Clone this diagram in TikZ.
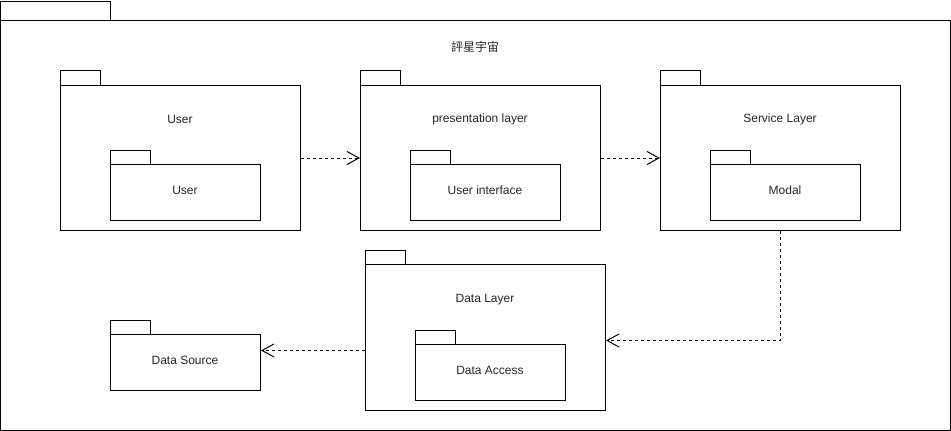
\documentclass[tikz,border=0pt]{standalone}
\usepackage{fontspec}
\setmainfont{Liberation Sans}
\newfontfamily\cjkfont{Noto Sans CJK TC}
\usetikzlibrary{arrows.meta,calc}
\begin{document}
\begin{tikzpicture}[x=1pt,y=-1pt,
  line width=1pt,
  every node/.style={font=\fontsize{12}{14}\selectfont, text=black!85},
  pkgbody/.style={draw, fill=white, anchor=north west, inner sep=0pt, minimum width=#1},
  pkgtab/.style={draw, fill=white},
  lbl/.style={yshift=-1.5pt},
  dep/.style={dash pattern=on 3pt off 3pt, -{Straight Barb[length=12pt,width=13pt,line width=1pt]}}
]
\useasboundingbox (0,0) rectangle (951,431);

% outer package
\draw[pkgtab] (0,1) rectangle (110,20);
\node[pkgbody=950pt, minimum height=410pt] (frame) at (0,20) {};
\node[lbl] (title) at (475,45) {\cjkfont 評星宇宙};

% User
\draw[pkgtab] (60,70) rectangle (100,85);
\node[pkgbody=240pt, minimum height=145pt] (user) at (60,85) {};
\node[lbl] (userlbl) at (180,118) {User};
\draw[pkgtab] (110,150) rectangle (150,164);
\node[pkgbody=150pt, minimum height=56pt] (useri) at (110,164) {};
\node[lbl] (userilbl) at (185,189) {User};

% presentation layer
\draw[pkgtab] (360,70) rectangle (400,85);
\node[pkgbody=240pt, minimum height=145pt] (pres) at (360,85) {};
\node[lbl] (preslbl) at (480,118) {presentation layer};
\draw[pkgtab] (410,150) rectangle (450,164);
\node[pkgbody=150pt, minimum height=56pt] (presi) at (410,164) {};
\node[lbl] (presilbl) at (485,189) {User interface};

% Service Layer
\draw[pkgtab] (660,70) rectangle (700,85);
\node[pkgbody=240pt, minimum height=145pt] (svc) at (660,85) {};
\node[lbl] (svclbl) at (780,118) {Service Layer};
\draw[pkgtab] (710,150) rectangle (750,164);
\node[pkgbody=150pt, minimum height=56pt] (svci) at (710,164) {};
\node[lbl] (svcilbl) at (785,189) {Modal};

% Data Layer
\draw[pkgtab] (365,250) rectangle (405,264);
\node[pkgbody=240pt, minimum height=146pt] (dl) at (365,264) {};
\node[lbl] (dllbl) at (485,298) {Data Layer};
\draw[pkgtab] (415,330) rectangle (455,344);
\node[pkgbody=150pt, minimum height=56pt] (dli) at (415,344) {};
\node[lbl] (dlilbl) at (490,369) {Data Access};

% Data Source
\draw[pkgtab] (110,320) rectangle (150,334);
\node[pkgbody=150pt, minimum height=56pt] (ds) at (110,334) {};
\node[lbl] (dslbl) at (185,359) {Data Source};

% dependencies
\draw[dep] (user.east) -- (pres.west);
\draw[dep] (pres.east) -- (svc.west);
\draw[dep] (svc.south) |- ($(dl.east)+(0,3)$);
\draw[dep] ($(dl.west)+(0,13)$) -- ($(ds.east)+(0,-12)$);
\end{tikzpicture}
\end{document}
